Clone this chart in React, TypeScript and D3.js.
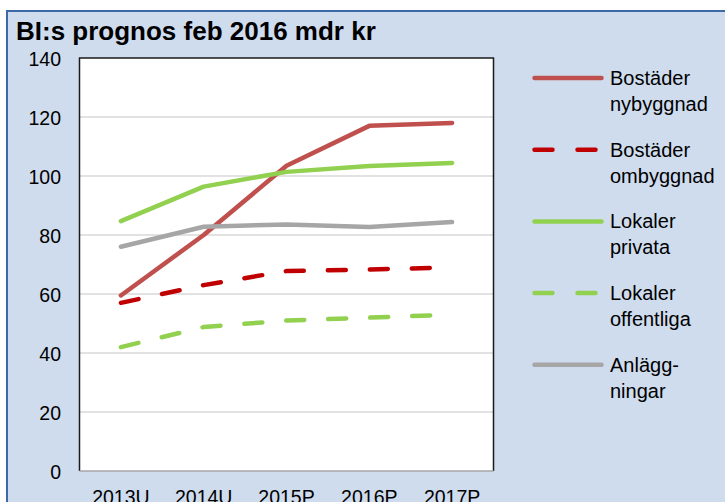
import * as d3 from 'd3';
import { useEffect, useRef } from 'react';

// Kategorier (x-axeln)
const years = ['2013U', '2014U', '2015P', '2016P', '2017P'];

// Serier, mdr kr
const bostaderNy = [59.5, 80, 103.5, 117, 118];
const bostaderOm = [57, 63, 67.8, 68.3, 69];
const lokalerPrivata = [84.7, 96.4, 101.4, 103.4, 104.4];
const lokalerOffentliga = [42, 48.8, 51, 52, 53];
const anlaggningar = [76, 82.8, 83.6, 82.7, 84.4];

const yTicks = [0, 20, 40, 60, 80, 100, 120, 140];

const series = [
  { name: ['Bostäder', 'nybyggnad'], values: bostaderNy, color: '#c0504d', dashed: false },
  { name: ['Bostäder', 'ombyggnad'], values: bostaderOm, color: '#c00000', dashed: true },
  { name: ['Lokaler', 'privata'], values: lokalerPrivata, color: '#92d050', dashed: false },
  { name: ['Lokaler', 'offentliga'], values: lokalerOffentliga, color: '#92d050', dashed: true },
  { name: ['Anlägg-', 'ningar'], values: anlaggningar, color: '#a6a6a6', dashed: false },
];

export default function App() {
  const ref = useRef<SVGSVGElement>(null);

  useEffect(() => {
    const svg = d3.select(ref.current);
    svg.selectAll('*').remove();

    const plot = { left: 79.5, top: 58, right: 493.5, bottom: 471 };
    const font = '"Liberation Sans", Arial, sans-serif';

    // bakgrund + ram
    svg.append('rect')
      .attr('x', 7).attr('y', 11)
      .attr('width', 760).attr('height', 520)
      .attr('fill', '#cfdcee')
      .attr('stroke', '#3e69a9')
      .attr('stroke-width', 2);

    svg.append('text')
      .attr('x', 16).attr('y', 40)
      .attr('font-family', font)
      .attr('font-size', 26)
      .attr('font-weight', 'bold')
      .attr('fill', '#000')
      .text('BI:s prognos feb 2016 mdr kr');

    const x = d3.scaleBand<string>()
      .domain(years)
      .range([plot.left, plot.right]);

    const y = d3.scaleLinear()
      .domain([0, 140])
      .range([plot.bottom, plot.top]);

    // plotytan
    svg.append('rect')
      .attr('x', plot.left).attr('y', plot.top)
      .attr('width', plot.right - plot.left)
      .attr('height', plot.bottom - plot.top)
      .attr('fill', '#fff');

    // rutnät
    svg.append('g')
      .selectAll('line')
      .data(yTicks.filter(t => t > 0 && t < 140))
      .enter()
      .append('line')
      .attr('x1', plot.left).attr('x2', plot.right)
      .attr('y1', d => y(d)).attr('y2', d => y(d))
      .attr('stroke', '#d9d9d9')
      .attr('stroke-width', 1.5);

    // ram runt plotytan (vänster, topp, höger)
    svg.append('path')
      .attr('d', `M${plot.left},${plot.bottom}V${plot.top}H${plot.right}V${plot.bottom}`)
      .attr('fill', 'none')
      .attr('stroke', '#1a1a1a')
      .attr('stroke-width', 1.5);

    svg.append('line')
      .attr('x1', plot.left).attr('x2', plot.right)
      .attr('y1', plot.bottom).attr('y2', plot.bottom)
      .attr('stroke', '#a6a6a6')
      .attr('stroke-width', 1.5);

    // y-axel
    svg.append('g')
      .selectAll('text')
      .data(yTicks)
      .enter()
      .append('text')
      .attr('x', 61)
      .attr('y', d => y(d) + 1)
      .attr('dy', '0.35em')
      .attr('text-anchor', 'end')
      .attr('font-family', font)
      .attr('font-size', 19.5)
      .text(d => d);

    // x-axel
    svg.append('g')
      .selectAll('text')
      .data(years)
      .enter()
      .append('text')
      .attr('x', d => (x(d) ?? 0) + x.bandwidth() / 2)
      .attr('y', 504)
      .attr('text-anchor', 'middle')
      .attr('font-family', font)
      .attr('font-size', 19.5)
      .text(d => d);

    const line = d3.line<number>()
      .x((_, i) => (x(years[i]) ?? 0) + x.bandwidth() / 2)
      .y(d => y(d));

    // linjer
    svg.append('g')
      .selectAll('path')
      .data(series)
      .enter()
      .append('path')
      .attr('d', d => line(d.values))
      .attr('fill', 'none')
      .attr('stroke', d => d.color)
      .attr('stroke-width', 4.5)
      .attr('stroke-linecap', 'round')
      .attr('stroke-linejoin', 'round')
      .attr('stroke-dasharray', d => (d.dashed ? '18 24' : null));

    // legend
    const legend = svg.append('g')
      .selectAll('g')
      .data(series)
      .enter()
      .append('g')
      .attr('transform', (_, i) => `translate(0,${78 + i * 71.7})`);

    legend.append('line')
      .attr('x1', 534.5).attr('x2', 601.5)
      .attr('y1', 0).attr('y2', 0)
      .attr('stroke', d => d.color)
      .attr('stroke-width', 4.5)
      .attr('stroke-linecap', 'round')
      .attr('stroke-dasharray', d => (d.dashed ? '18 25' : null));

    legend.append('text')
      .attr('x', 610)
      .attr('y', 7)
      .attr('font-family', font)
      .attr('font-size', 20)
      .text(d => d.name[0]);

    legend.append('text')
      .attr('x', 610)
      .attr('y', 33)
      .attr('font-family', font)
      .attr('font-size', 20)
      .text(d => d.name[1]);
  }, []);

  return (
    <svg
      ref={ref}
      width={725}
      height={502}
      style={{ position: 'absolute', left: 0, top: 0, background: '#fff' }}
    />
  );
}
